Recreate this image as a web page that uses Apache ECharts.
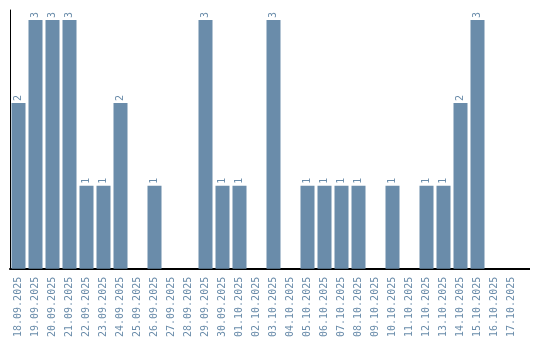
<!DOCTYPE html>
<html>
<head>
<meta charset="utf-8">
<script src="https://cdn.jsdelivr.net/npm/echarts@6/dist/echarts.min.js"></script>
<style>
  html, body { margin: 0; padding: 0; background: #fff; }
  #chart { width: 540px; height: 340px; }
</style>
</head>
<body>
<div id="chart"></div>
<script>
  // dates shown on the x axis
  var days = [
    '18.09.2025', '19.09.2025', '20.09.2025', '21.09.2025', '22.09.2025',
    '23.09.2025', '24.09.2025', '25.09.2025', '26.09.2025', '27.09.2025',
    '28.09.2025', '29.09.2025', '30.09.2025', '01.10.2025', '02.10.2025',
    '03.10.2025', '04.10.2025', '05.10.2025', '06.10.2025', '07.10.2025',
    '08.10.2025', '09.10.2025', '10.10.2025', '11.10.2025', '12.10.2025',
    '13.10.2025', '14.10.2025', '15.10.2025', '16.10.2025', '17.10.2025'
  ];
  // count per day
  var counts = [
    2, 3, 3, 3, 1,
    1, 2, 0, 1, 0,
    0, 3, 1, 1, 0,
    3, 0, 1, 1, 1,
    1, 0, 1, 0, 1,
    1, 2, 3, 0, 0
  ];

  var blue = '#6a8caa';
  var chart = echarts.init(document.getElementById('chart'));
  chart.setOption({
    animation: false,
    grid: { left: 10, right: 20, top: 10, bottom: 70 },
    // the baseline runs a little past the last category
    graphic: [{
      type: 'line',
      shape: { x1: 519, y1: 269, x2: 530, y2: 269 },
      style: { stroke: '#000', lineWidth: 2 }
    }],
    xAxis: {
      type: 'category',
      data: days,
      axisLine: { lineStyle: { color: '#000', width: 2 } },
      axisTick: { show: false },
      axisLabel: {
        rotate: 90,
        interval: 0,
        margin: 8,
        color: blue,
        fontFamily: 'DejaVu Sans Mono',
        fontSize: 10
      }
    },
    yAxis: {
      type: 'value',
      min: 0,
      max: 3.12,
      axisLine: { show: true, lineStyle: { color: '#000', width: 1 } },
      axisTick: { show: false },
      axisLabel: { show: false },
      splitLine: { show: false }
    },
    series: [{
      type: 'bar',
      data: counts,
      barWidth: 14,
      itemStyle: { color: blue },
      label: {
        show: true,
        position: 'top',
        rotate: 90,
        distance: 2,
        align: 'left',
        verticalAlign: 'middle',
        color: blue,
        fontFamily: 'DejaVu Sans Mono',
        fontSize: 10,
        formatter: function (p) { return p.value ? String(p.value) : ''; }
      }
    }]
  });
</script>
</body>
</html>
